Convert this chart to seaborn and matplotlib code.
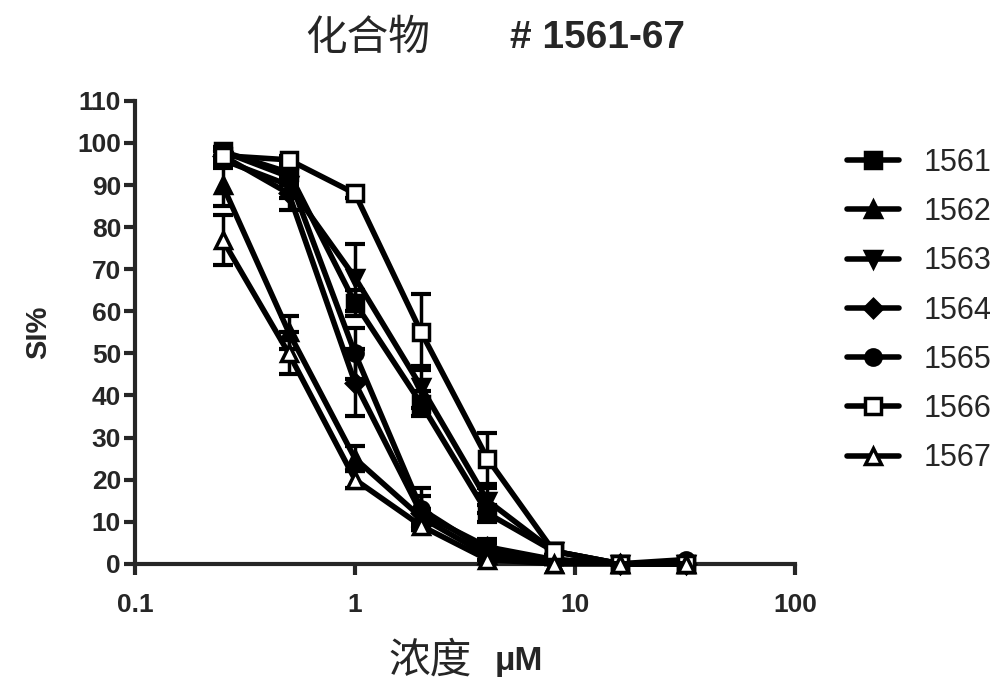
import matplotlib
matplotlib.use("Agg")
import matplotlib.pyplot as plt
import seaborn as sns
import pandas as pd
import numpy as np

sns.set_theme(style="ticks")
plt.rcParams['font.family'] = ['Liberation Sans', 'DejaVu Sans']

conc = [0.25, 0.5, 1, 2, 4, 8, 16, 32]
compounds = ["1561", "1562", "1563", "1564", "1565", "1566", "1567"]
s1561 = [98, 93, 62, 38, 12, 3, 0, 0]
s1562 = [90, 55, 25, 11, 2, 0, 0, 0]
s1563 = [96, 90, 68, 42, 15, 3, 0, 0]
s1564 = [97, 88, 43, 12, 4, 1, 0, 0]
s1565 = [98, 92, 50, 13, 3, 1, 0, 1]
s1566 = [97, 96, 88, 55, 25, 3, 0, 0]
s1567 = [77, 50, 20, 9, 1, 0, 0, 0]
e1561 = [1, 2, 3, 3, 2, 1, 0, 0]
e1562 = [5, 4, 3, 2, 1, 0, 0, 0]
e1563 = [2, 3, 8, 5, 3, 1, 0, 0]
e1564 = [1, 4, 8, 4, 2, 1, 0, 0]
e1565 = [1, 2, 6, 5, 2, 1, 0, 0]
e1566 = [1, 1, 1, 9, 6, 1, 0, 0]
e1567 = [6, 5, 2, 1, 1, 0, 0, 0]
yticks = list(range(0, 111, 10))
xticks = [0.1, 1, 10, 100]
xticklabels = ["0.1", "1", "10", "100"]

means = [s1561, s1562, s1563, s1564, s1565, s1566, s1567]
errs = [e1561, e1562, e1563, e1564, e1565, e1566, e1567]
markers = ['s', '^', 'v', 'D', 'o', 's', '^']
filled = [True, True, True, True, True, False, False]

fig = plt.figure(figsize=(10, 6.96), dpi=100)
ax = fig.add_axes([0.135, 0.19, 0.66, 0.665])

for name, m, e, mk, f in zip(compounds, means, errs, markers, filled):
    df = pd.DataFrame({"conc": conc, "SI": m})
    ax.errorbar(conc, m, yerr=e, fmt='none', ecolor='black', elinewidth=2.5,
                capsize=7, capthick=3, clip_on=False, zorder=2)
    sns.lineplot(data=df, x="conc", y="SI", ax=ax, color='black', lw=4,
                 marker=mk, markersize=11 if mk != 'D' else 9,
                 markerfacecolor='black' if f else 'white',
                 markeredgecolor='black', markeredgewidth=2.5,
                 label=name, clip_on=False, zorder=3)

ax.set_xscale('log')
ax.set_xlim(0.1, 100)
ax.set_ylim(0, 110)
ax.set_xticks(xticks)
ax.set_xticklabels(xticklabels)
ax.minorticks_off()
ax.set_yticks(yticks)
for sp in ['top', 'right']:
    ax.spines[sp].set_visible(False)
for sp in ['left', 'bottom']:
    ax.spines[sp].set_linewidth(3)
ax.tick_params(axis='both', width=3, length=8, direction='out', labelsize=19)
ax.tick_params(axis='x', pad=13)
ax.tick_params(axis='y', pad=2)
for lbl in ax.get_xticklabels() + ax.get_yticklabels():
    lbl.set_fontweight('bold')
ax.set_xlabel("")
ax.set_ylabel("SI%", fontsize=21, fontweight='bold', labelpad=18)

leg = ax.legend(loc='upper left', bbox_to_anchor=(0.835, 0.805), bbox_transform=fig.transFigure,
                frameon=False, fontsize=22, handlelength=1.7, labelspacing=0.63,
                handletextpad=0.8, borderaxespad=0)

fig.text(0.368, 0.945, "化合物", fontsize=30, ha='center', va='center',
         family=['Noto Sans CJK SC', 'DejaVu Sans'])
fig.text(0.597, 0.945, "# 1561-67", fontsize=28, ha='center', va='center', fontweight='bold')
fig.text(0.43, 0.05, "浓度", fontsize=30, ha='center', va='center',
         family=['Noto Sans CJK SC', 'DejaVu Sans'])
fig.text(0.519, 0.05, "μM", fontsize=24, ha='center', va='center', fontweight='bold')

fig.savefig("out.png", dpi=100, facecolor='white')
